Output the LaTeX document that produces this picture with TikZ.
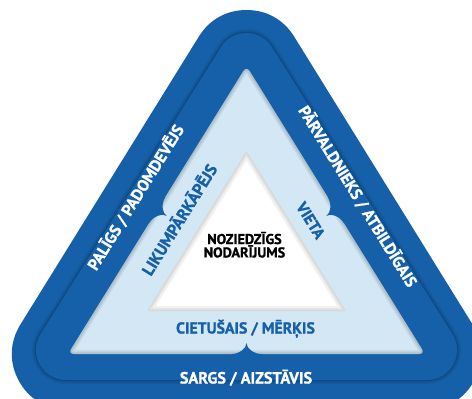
\documentclass[tikz,border=0pt]{standalone}
\usepackage{fontspec}
\setmainfont{PT Sans}[BoldFeatures={FakeBold=1.2}]
\usetikzlibrary{positioning}

\definecolor{bandblue}{RGB}{21,96,169}
\definecolor{paleblue}{RGB}{211,231,245}

\begin{document}
\begin{tikzpicture}[x=1pt, y=-1pt,
    every node/.style={inner sep=0pt, text height=0.7em, text depth=0pt},
    bandtext/.style={text=white, font=\bfseries\fontsize{16.2}{16.2}\selectfont},
    innertext/.style={text=bandblue, font=\bfseries\fontsize{15.8}{15.8}\selectfont},
    crimetext/.style={text=black, font=\bfseries\fontsize{14.2}{14.2}\selectfont}]
    \useasboundingbox (0,0) rectangle (472,399);
    \clip (0,0) rectangle (472,399);

    % corners of the pale triangle
    \coordinate (A) at (246.5,66);
    \coordinate (B) at (68,354);
    \coordinate (C) at (425,354);
    % corners of the second band
    \coordinate (A2) at (246.5,63);
    \coordinate (B2) at (66,350);
    \coordinate (C2) at (427,350);
    % corners of the white triangle
    \coordinate (P) at (246.5,151);
    \coordinate (Q) at (147,311);
    \coordinate (R) at (346,311);

    % outer band
    \filldraw[bandblue, line width=112pt, line join=round] (A) -- (B) -- (C) -- cycle;

    % second band with its shadow
    \foreach \w/\o in {68/0.05, 65/0.08, 62/0.12}{
        \draw[black, opacity=\o, line width=\w pt, line join=round] (A2) -- (B2) -- (C2) -- cycle;
      }
    \filldraw[bandblue, line width=60pt, line join=round] (A2) -- (B2) -- (C2) -- cycle;

    % pale triangle
    \fill[paleblue, rounded corners=6pt] (A) -- (B) -- (C) -- cycle;
    \begin{scope}
        \clip[rounded corners=6pt] (A) -- (B) -- (C) -- cycle;
        \foreach \w in {8,5,3}{
            \draw[black, opacity=0.06, line width=\w pt, rounded corners=6pt] (A) -- (B) -- (C) -- cycle;
          }
    \end{scope}

    % notches in the middle of each side
    \foreach \mx/\my/\ang in {157.25/210/-121.8, 335.75/210/121.8, 246.5/354/0}{
        \begin{scope}[shift={(\mx,\my)}, rotate=\ang]
            \fill[bandblue] (-15,3) -- (-15,0) .. controls (-7.5,0) and (0,-5.5) .. (0,-11)
            .. controls (0,-5.5) and (7.5,0) .. (15,0) -- (15,3) -- cycle;
        \end{scope}
      }

    % white triangle
    \fill[white, rounded corners=2pt] (P) -- (Q) -- (R) -- cycle;
    \begin{scope}
        \clip[rounded corners=2pt] (P) -- (Q) -- (R) -- cycle;
        \foreach \w in {10,6,3}{
            \draw[black, opacity=0.05, line width=\w pt] (P) -- (Q) -- (R) -- cycle;
          }
    \end{scope}

    % labels
    \node[bandtext, rotate=58.2] (helper) at (137.5,198.5) {PALĪGS / PADOMDEVĒJS};
    \node[bandtext, rotate=-58.2] (manager) at (356,197.5) {PĀRVALDNIEKS / ATBILDĪGAIS};
    \node[bandtext] (guardian) at (246,380) {SARGS / AIZSTĀVIS};
    \node[innertext, rotate=58.2, font=\bfseries\fontsize{16.5}{16.5}\selectfont] (offender) at (181.5,221) {LIKUMPĀRKĀPĒJS};
    \node[innertext, rotate=-58.2] (place) at (309,221.5) {VIETA};
    \node[innertext] (target) at (245.5,330) {CIETUŠAIS / MĒRĶIS};
    \node[crimetext] (crime1) at (244.5,240.5) {NOZIEDZĪGS};
    \node[crimetext, below=6pt of crime1] (crime2) {NODARĪJUMS};
\end{tikzpicture}
\end{document}
